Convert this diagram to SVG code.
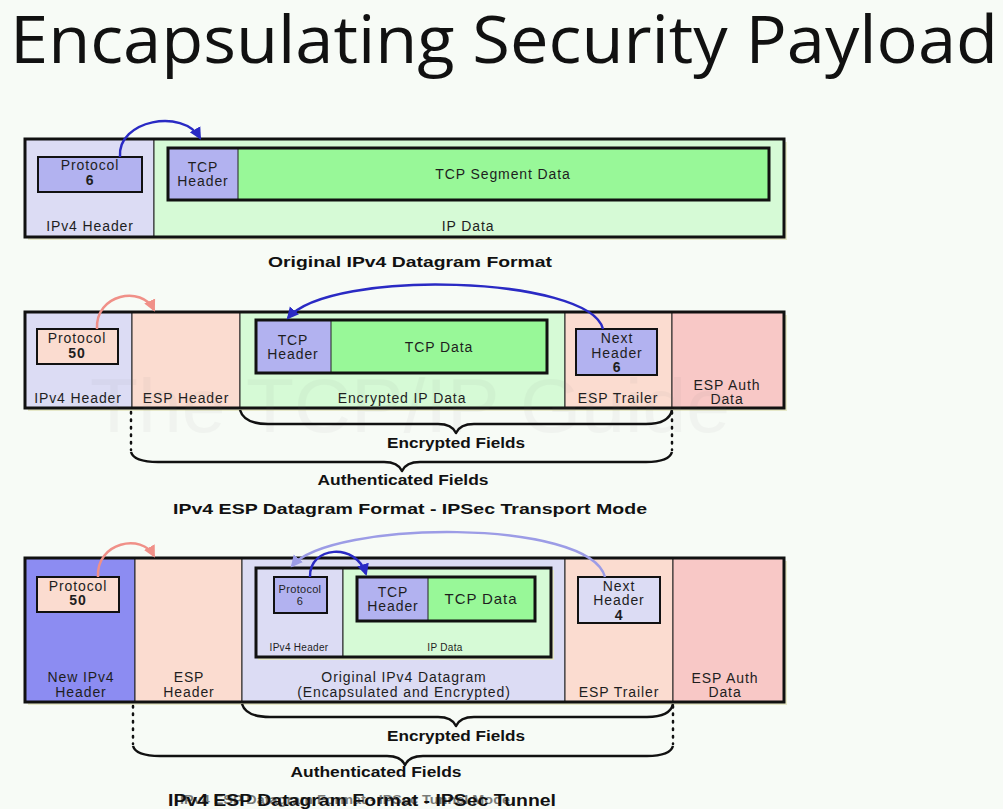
<svg xmlns="http://www.w3.org/2000/svg" width="1003" height="809" viewBox="0 0 1003 809">
  <defs>
    <style>
      .lbl { font-family: "Liberation Sans", Arial, sans-serif; font-size: 14px; fill: #1e1e1e; letter-spacing: 0.9px; text-anchor: middle; }
      .num { font-weight: bold; }
      .small { font-size: 10px; letter-spacing: 0.3px; }
      .cap { font-family: "Liberation Sans", Arial, sans-serif; font-size: 15px; font-weight: bold; fill: #111; text-anchor: middle; }
      .frame { stroke: #111; stroke-width: 3; }
      .cell { stroke: #222; stroke-width: 1; }
      .inner { stroke: #111; stroke-width: 3; }
      .field { stroke: #111; stroke-width: 2; }
      .shadow { fill: #e6e8c8; }
      .brace { fill: none; stroke: #111; stroke-width: 2.5; stroke-linejoin: round; }
      .dots { fill: none; stroke: #111; stroke-width: 2.5; stroke-dasharray: 1.5 6; stroke-linecap: round; }
      .arr-blue { fill: none; stroke: #2a2ac4; stroke-width: 2.5; }
      .arr-pink { fill: none; stroke: #f09088; stroke-width: 2.5; }
      .arr-pale { fill: none; stroke: #9c9ce6; stroke-width: 2.5; }
      .lav { fill: #dcdcf4; }
      .peri { fill: #b2b2f0; }
      .lgreen { fill: #d6fad6; }
      .green { fill: #98f898; }
      .peach { fill: #fbdcd0; }
      .pink { fill: #f8c8c6; }
      .violet { fill: #8c8cf2; }
    </style>
    <marker id="head-blue" markerUnits="userSpaceOnUse" markerWidth="14" markerHeight="14" refX="10" refY="7" orient="auto">
      <path d="M0,1 L12,7 L0,13 Z" fill="#2a2ac4"/>
    </marker>
    <marker id="head-pink" markerUnits="userSpaceOnUse" markerWidth="14" markerHeight="14" refX="10" refY="7" orient="auto">
      <path d="M0,1 L12,7 L0,13 Z" fill="#f09088"/>
    </marker>
    <marker id="head-pale" markerUnits="userSpaceOnUse" markerWidth="14" markerHeight="14" refX="10" refY="7" orient="auto">
      <path d="M0,1 L12,7 L0,13 Z" fill="#9c9ce6"/>
    </marker>
  </defs>

  <rect width="1003" height="809" fill="#f7fbf6"/>

  <!-- Title -->
  <text x="10" y="63" font-family="'Open Sans', 'Noto Sans', sans-serif" font-size="66" fill="#111" textLength="988" lengthAdjust="spacingAndGlyphs">Encapsulating Security Payload</text>

  <!-- ===== Original IPv4 datagram ===== -->
  <g id="ipv4-datagram">
    <rect class="shadow" x="28" y="142" width="759" height="98"/>
    <rect class="lav cell" x="25" y="139" width="129" height="98"/>
    <rect class="lgreen cell" x="154" y="139" width="630" height="98"/>
    <rect class="frame" x="25" y="139" width="759" height="98" fill="none"/>
    <text class="lbl" x="90" y="231">IPv4 Header</text>
    <text class="lbl" x="468" y="231">IP Data</text>
  </g>
  <g id="ipv4-protocol-6">
    <rect class="peri field" x="38" y="157" width="104" height="35"/>
    <text class="lbl" x="90" y="170">Protocol</text>
    <text class="lbl num" x="90" y="185">6</text>
  </g>
  <g id="tcp-segment">
    <rect class="green" x="168" y="148" width="601" height="52"/>
    <rect class="peri cell" x="168" y="148" width="70" height="52"/>
    <rect class="inner" x="168" y="148" width="601" height="52" fill="none"/>
    <text class="lbl" x="203" y="172">TCP</text>
    <text class="lbl" x="203" y="186">Header</text>
    <text class="lbl" x="503" y="179">TCP Segment Data</text>
  </g>
  <text class="cap" x="410" y="267" textLength="284" lengthAdjust="spacingAndGlyphs">Original IPv4 Datagram Format</text>

  <!-- ===== ESP transport mode ===== -->
  <g id="transport-datagram">
    <rect class="shadow" x="28" y="315" width="759" height="96"/>
    <rect class="lav cell" x="25" y="312" width="107" height="96"/>
    <rect class="peach cell" x="132" y="312" width="108" height="96"/>
    <rect class="lgreen cell" x="240" y="312" width="325" height="96"/>
    <rect class="peach cell" x="565" y="312" width="107" height="96"/>
    <rect class="pink cell" x="672" y="312" width="112" height="96"/>
    <rect class="frame" x="25" y="312" width="759" height="96" fill="none"/>
    <text class="lbl" x="78" y="403">IPv4 Header</text>
    <text class="lbl" x="186" y="403">ESP Header</text>
    <text class="lbl" x="402" y="403">Encrypted IP Data</text>
    <text class="lbl" x="618" y="403">ESP Trailer</text>
    <text class="lbl" x="727" y="390">ESP Auth</text>
    <text class="lbl" x="727" y="404">Data</text>
  </g>
  <g id="transport-protocol-50">
    <rect class="peach field" x="37" y="329" width="81" height="35"/>
    <text class="lbl" x="77" y="343">Protocol</text>
    <text class="lbl num" x="77" y="358">50</text>
  </g>
  <g id="transport-tcp">
    <rect class="green" x="256" y="320" width="291" height="53"/>
    <rect class="peri cell" x="256" y="320" width="75" height="53"/>
    <rect class="inner" x="256" y="320" width="291" height="53" fill="none"/>
    <text class="lbl" x="293" y="345">TCP</text>
    <text class="lbl" x="293" y="359">Header</text>
    <text class="lbl" x="439" y="352">TCP Data</text>
  </g>
  <g id="transport-next-header">
    <rect class="peri field" x="576" y="329" width="81" height="46"/>
    <text class="lbl" x="617" y="343">Next</text>
    <text class="lbl" x="617" y="358">Header</text>
    <text class="lbl num" x="617" y="372">6</text>
  </g>
  <!-- faint publisher watermark -->
  <text x="410" y="432" font-family="'Liberation Sans', Arial, sans-serif" font-size="76" fill="#777" opacity="0.05" text-anchor="middle" textLength="640" lengthAdjust="spacingAndGlyphs">The TCP/IP Guide</text>

  <g id="transport-encrypted-fields">
    <path class="brace" d="M240 410 Q244 424 268 424 L438 424 Q452 424 456 433 Q460 424 474 424 L646 424 Q669 424 672 410"/>
    <text class="cap" x="456" y="448" style="font-size:14px" textLength="138" lengthAdjust="spacingAndGlyphs">Encrypted Fields</text>
  </g>
  <g id="transport-authenticated-fields">
    <path class="dots" d="M131 412 L131 450 M672 412 L672 450"/>
    <path class="brace" d="M131 452 Q134 462 158 462 L384 462 Q398 462 402 471 Q406 462 420 462 L646 462 Q669 462 672 452"/>
    <text class="cap" x="403" y="485" style="font-size:14px" textLength="171" lengthAdjust="spacingAndGlyphs">Authenticated Fields</text>
  </g>
  <text class="cap" x="410" y="514" textLength="474" lengthAdjust="spacingAndGlyphs">IPv4 ESP Datagram Format - IPSec Transport Mode</text>

  <!-- ===== ESP tunnel mode ===== -->
  <g id="tunnel-datagram">
    <rect class="shadow" x="28" y="561" width="759" height="144"/>
    <rect class="violet cell" x="25" y="558" width="110" height="144"/>
    <rect class="peach cell" x="135" y="558" width="107" height="144"/>
    <rect class="lav cell" x="242" y="558" width="323" height="144"/>
    <rect class="peach cell" x="565" y="558" width="108" height="144"/>
    <rect class="pink cell" x="673" y="558" width="111" height="144"/>
    <rect class="frame" x="25" y="558" width="759" height="144" fill="none"/>
    <text class="lbl" x="81" y="682">New IPv4</text>
    <text class="lbl" x="81" y="697">Header</text>
    <text class="lbl" x="189" y="682">ESP</text>
    <text class="lbl" x="189" y="697">Header</text>
    <text class="lbl" x="404" y="682">Original IPv4 Datagram</text>
    <text class="lbl" x="404" y="697">(Encapsulated and Encrypted)</text>
    <text class="lbl" x="619" y="697">ESP Trailer</text>
    <text class="lbl" x="725" y="683">ESP Auth</text>
    <text class="lbl" x="725" y="697">Data</text>
  </g>
  <g id="tunnel-protocol-50">
    <rect class="peach field" x="37" y="577" width="82" height="35"/>
    <text class="lbl" x="78" y="591">Protocol</text>
    <text class="lbl num" x="78" y="605">50</text>
  </g>
  <g id="inner-ipv4">
    <rect x="258" y="570" width="296" height="90" fill="#e6e8c8"/>
    <rect class="lav cell" x="256" y="568" width="87" height="89"/>
    <rect class="lgreen cell" x="343" y="568" width="208" height="89"/>
    <rect class="inner" x="256" y="568" width="295" height="89" fill="none"/>
    <text class="lbl small" x="299" y="651">IPv4 Header</text>
    <text class="lbl small" x="445" y="651">IP Data</text>
  </g>
  <g id="inner-protocol-6">
    <rect class="peri field" x="274" y="577" width="53" height="36"/>
    <text class="lbl small" x="300" y="593" style="font-size:11px">Protocol</text>
    <text class="lbl small" x="300" y="605" style="font-size:11px">6</text>
  </g>
  <g id="inner-tcp">
    <rect class="green" x="357" y="577" width="178" height="44"/>
    <rect class="peri cell" x="357" y="577" width="71" height="44"/>
    <rect class="inner" x="357" y="577" width="178" height="44" fill="none"/>
    <text class="lbl" x="393" y="597">TCP</text>
    <text class="lbl" x="393" y="611">Header</text>
    <text class="lbl" x="481" y="604" style="font-size:15px">TCP Data</text>
  </g>
  <g id="tunnel-next-header">
    <rect class="lav field" x="578" y="577" width="82" height="46"/>
    <text class="lbl" x="619" y="591">Next</text>
    <text class="lbl" x="619" y="605">Header</text>
    <text class="lbl num" x="619" y="620">4</text>
  </g>

  <g id="tunnel-encrypted-fields">
    <path class="brace" d="M242 704 Q246 717 270 717 L438 717 Q452 717 456 726 Q460 717 474 717 L647 717 Q670 717 673 704"/>
    <text class="cap" x="456" y="741" style="font-size:14px" textLength="138" lengthAdjust="spacingAndGlyphs">Encrypted Fields</text>
  </g>
  <g id="tunnel-authenticated-fields">
    <path class="dots" d="M133 706 L133 744 M673 706 L673 744"/>
    <path class="brace" d="M133 746 Q136 756 160 756 L387 756 Q401 756 405 765 Q409 756 423 756 L647 756 Q670 756 673 746"/>
    <text class="cap" x="376" y="777" style="font-size:14px" textLength="171" lengthAdjust="spacingAndGlyphs">Authenticated Fields</text>
  </g>
  <g id="tunnel-caption">
    <text class="cap" x="362" y="806" style="font-size:16px" textLength="388" lengthAdjust="spacingAndGlyphs">IPv4 ESP Datagram Format - IPSec Tunnel</text>
    <text class="cap" x="345" y="804" style="font-size:12px" opacity="0.55" textLength="330" lengthAdjust="spacingAndGlyphs">IPv4 ESP Datagram Format - IPSec Tunnel Mode</text>
  </g>

  <!-- Connectors: protocol / next-header pointers -->
  <g id="connectors">
    <path class="arr-blue" d="M120 157 C117 120 183 108 200 138" marker-end="url(#head-blue)"/>
    <path class="arr-pink" d="M97 329 C95 294 142 285 154 310" marker-end="url(#head-pink)"/>
    <path class="arr-blue" d="M603 329 C590 276 330 268 288 318" marker-end="url(#head-blue)"/>
    <path class="arr-pink" d="M98 577 C96 542 142 533 154 556" marker-end="url(#head-pink)"/>
    <path class="arr-pale" d="M605 577 C590 518 330 520 292 566" marker-end="url(#head-pale)"/>
    <path class="arr-blue" d="M310 577 C309 546 356 542 366 574" marker-end="url(#head-blue)"/>
  </g>
</svg>
